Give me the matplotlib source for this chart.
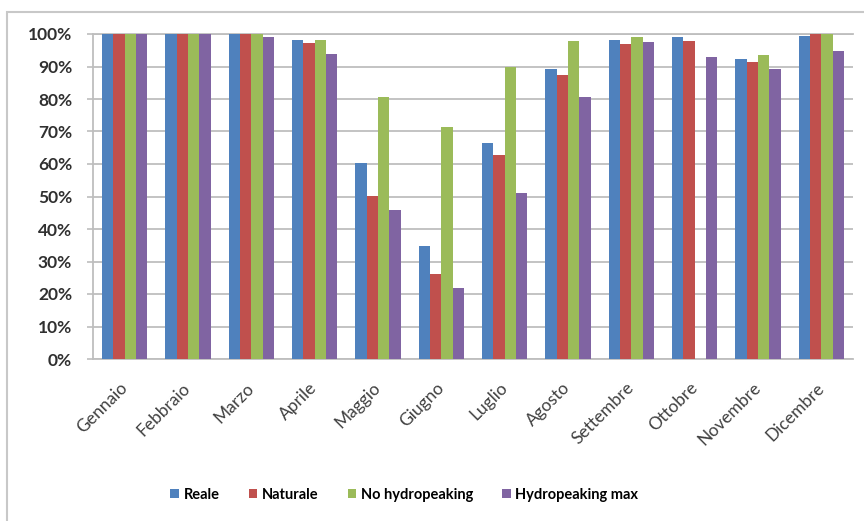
import numpy as np
import matplotlib
matplotlib.use("Agg")
import matplotlib.pyplot as plt
from matplotlib.patches import Rectangle
from matplotlib.ticker import PercentFormatter

months = ["Gennaio", "Febbraio", "Marzo", "Aprile", "Maggio", "Giugno",
          "Luglio", "Agosto", "Settembre", "Ottobre", "Novembre", "Dicembre"]
series_names = ["Reale", "Naturale", "No hydropeaking", "Hydropeaking max"]
reale = [100, 100, 100, 98.3, 60.2, 34.8, 66.4, 89.2, 98.3, 99.0, 92.3, 99.4]
naturale = [100, 100, 100, 97.3, 50.2, 26.3, 62.8, 87.5, 96.8, 97.8, 91.3, 100]
no_hydropeaking = [100, 100, 100, 98.3, 80.5, 71.3, 89.9, 97.8, 99.0, 0, 93.5, 100]
hydropeaking_max = [100, 100, 99.0, 94.0, 45.8, 21.9, 51.0, 80.5, 97.5, 92.9, 89.1, 94.9]
colors = ["#4F81BD", "#C0504D", "#9BBB59", "#8064A2"]

plt.rcParams["font.family"] = ["Lato", "DejaVu Sans"]

fig = plt.figure(figsize=(8.64, 5.21), dpi=100)
W, H = 864, 521
ax = fig.add_axes([93 / W, 1 - 359 / H, (853 - 93) / W, (359 - 34) / H])

# chart-area frame
fig.patches.append(Rectangle((7 / W, -0.05), (870 - 7) / W, 1.05 - 12 / H,
                             transform=fig.transFigure, fill=False,
                             edgecolor="#C8C8C8", linewidth=1.5))

data = [reale, naturale, no_hydropeaking, hydropeaking_max]
x = np.arange(len(months))
bw = 0.18
for i, (vals, name, c) in enumerate(zip(data, series_names, colors)):
    ax.bar(x + (i - 1.5) * bw, np.array(vals) / 100, width=bw, color=c,
           label=name, zorder=3)

ax.set_xlim(-0.5, len(months) - 0.5)
ax.set_ylim(0, 1)
ax.set_yticks(np.arange(0, 1.01, 0.1))
ax.yaxis.set_major_formatter(PercentFormatter(1.0, decimals=0))
ax.grid(axis="y", color="#BEBEBE", linewidth=1.3, zorder=0)
ax.spines["right"].set_visible(False)
for s in ["top", "left", "bottom"]:
    ax.spines[s].set_color("#BEBEBE")
    ax.spines[s].set_linewidth(1.3)

ax.tick_params(axis="y", length=4, color="#BEBEBE", width=1.2, pad=11,
               labelsize=12.5, labelcolor="#303030")
for lab in ax.get_yticklabels():
    lab.set_fontweight("bold")

ax.set_xticks(x)
ax.set_xticklabels(months, rotation=45, ha="right", va="center",
                   rotation_mode="anchor", fontsize=12.5, color="#404040")
ax.tick_params(axis="x", length=0, pad=19)

fig.legend(loc="center", bbox_to_anchor=(0.468, 1 - 495 / H), ncol=4,
           frameon=False, handlelength=0.6, handleheight=0.6,
           handletextpad=0.3, columnspacing=2.0,
           prop={"size": 10.5, "weight": "bold"})

fig.savefig("out.png", dpi=100)
